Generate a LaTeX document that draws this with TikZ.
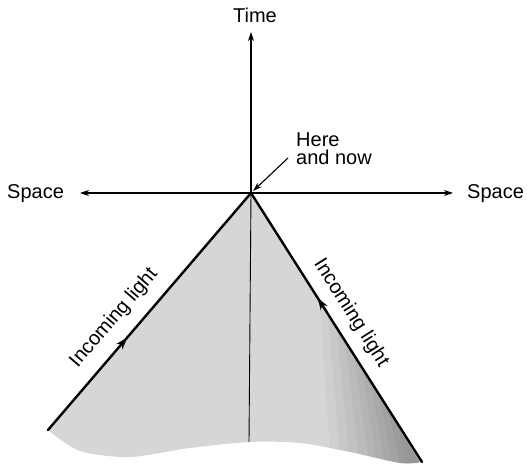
\documentclass[tikz,border=0pt]{standalone}
\usepackage{fontspec}
\setmainfont{Liberation Sans}
\usetikzlibrary{arrows.meta,decorations.markings,calc}
\definecolor{conefill}{rgb}{0.84,0.84,0.84}
\begin{document}
\begin{tikzpicture}[x=1pt,y=-1pt,
  lbl/.style={font=\fontsize{20}{18}\selectfont, inner sep=0pt},
  axis/.style={line width=1.1pt, -{Stealth[length=9pt,width=6pt]}},
  ray/.style={line width=2.4pt, line cap=round, postaction={decorate}},
  mid/.style={decoration={markings, mark=at position #1 with {\arrow{Stealth[length=12pt,width=8pt]}}}},
  shadefill/.style={fill=conefill},
  darkband/.style={fill=black, fill opacity=0.03}
  ]
\useasboundingbox (0,0) rectangle (527,473);
\coordinate (O) at (251,193);
\coordinate (L) at (48,430);
\coordinate (R) at (422,462);
\coordinate (B) at (249,442);
\coordinate (Wt) at (80,193);
\coordinate (Et) at (453,193);
\coordinate (Nt) at (251,32);
\coordinate (Hs) at (288,158);
% shaded past light cone
\def\conepath{(O) -- (L) -- plot[smooth] coordinates {(48,430)(80,451)(130,457)(190,448)(250,442)(300,443)(350,452)(400,463)(422,462)} -- cycle}
\fill[shadefill] \conepath;
\begin{scope}
\clip \conepath;
\foreach \t/\w in {0.40/90, 0.45/80, 0.50/70, 0.55/60, 0.60/50, 0.65/42, 0.70/34, 0.75/26, 0.80/18, 0.85/11}
  \fill[darkband] ($(O)!\t!(R)$) -- ($(R)+(10,20)$) -- ($(R)+(-\w,20)$) -- cycle;
\end{scope}
% inner vertical line
\draw[line width=0.9pt] (O) -- (B);
% axes
\draw[axis] (O) -- (Wt);
\draw[axis] (O) -- (Et);
\draw[axis] (O) -- (Nt);
% light rays
\draw[ray, mid=0.39] (L) -- (O);
\draw[ray, mid=0.61] (R) -- (O);
% labels
\node[lbl, anchor=base west] (sl) at (7,198) {Space};
\node[lbl, anchor=base west] (sr) at (467,198) {Space};
\node[lbl, anchor=base] (time) at (255,23) {Time};
\node[lbl, anchor=north west, align=left] (here) at (296,133) {Here\\and now};
\draw[line width=1.1pt, -{Stealth[length=9pt,width=6pt]}, shorten >=3pt] (Hs) -- (O);
\node[lbl, rotate=49.4] (il) at (114,318) {Incoming light};
\node[lbl, rotate=-57.6] (ir) at (351,313) {Incoming light};
\end{tikzpicture}
\end{document}
